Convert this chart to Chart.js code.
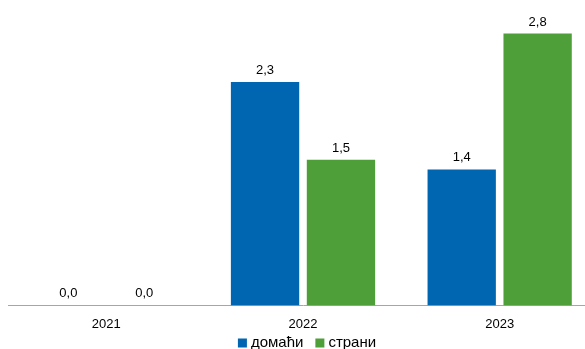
<!DOCTYPE html>
<html>
<head>
<meta charset="utf-8">
<script src="https://cdn.jsdelivr.net/npm/chart.js@4/dist/chart.umd.min.js"></script>
<style>
  html, body { margin: 0; padding: 0; background: #fff; overflow: hidden; }
  #wrap { width: 598px; height: 349px; }
</style>
</head>
<body>
<div id="wrap"><canvas id="chart"></canvas></div>
<script>
const years = ["2021", "2022", "2023"];
const domaci = [0.0, 2.3, 1.4];
const strani = [0.0, 1.5, 2.8];
const seriesNames = ["домаћи", "страни"];
const seriesColors = ["#0066b2", "#4e9f39"];

const FONT = "'Liberation Sans', Arial, sans-serif";

// labels above the bars, comma as decimal sign
const valueLabels = {
    id: "valueLabels",
    afterDatasetsDraw(chart) {
        const ctx = chart.ctx;
        ctx.save();
        ctx.font = "13px " + FONT;
        ctx.fillStyle = "#000";
        ctx.textAlign = "center";
        ctx.textBaseline = "bottom";
        chart.data.datasets.forEach((ds, i) => {
            chart.getDatasetMeta(i).data.forEach((bar, j) => {
                const txt = ds.data[j].toFixed(1).replace(".", ",");
                ctx.fillText(txt, bar.x, bar.y - 5);
            });
        });
        ctx.restore();
    }
};

// simple legend row under the axis
const bottomLegend = {
    id: "bottomLegend",
    afterDraw(chart) {
        const ctx = chart.ctx;
        const area = chart.chartArea;
        ctx.save();
        ctx.font = "15px " + FONT;
        ctx.textBaseline = "alphabetic";
        const box = 9, gap = 4, itemGap = 12;
        const widths = chart.data.datasets.map(ds => box + gap + ctx.measureText(ds.label).width);
        const total = widths.reduce((a, b) => a + b, 0) + itemGap * (widths.length - 1);
        let x = (area.left + area.right) / 2 + 4 - total / 2;
        const y = 347;
        chart.data.datasets.forEach((ds, i) => {
            ctx.fillStyle = ds.backgroundColor;
            ctx.fillRect(x, y - 8.5, box, box);
            ctx.fillStyle = "#000";
            ctx.fillText(ds.label, x + box + gap, y);
            x += widths[i] + itemGap;
        });
        ctx.restore();
    }
};

new Chart(document.getElementById("chart"), {
    type: "bar",
    data: {
        labels: years,
        datasets: seriesNames.map((name, i) => ({
            label: name,
            data: i === 0 ? domaci : strani,
            backgroundColor: seriesColors[i],
            categoryPercentage: 0.772,
            barPercentage: 0.9,
        })),
    },
    options: {
        responsive: true,
        maintainAspectRatio: false,
        animation: false,
        layout: { padding: { top: 14, left: 8, right: 0, bottom: 14 } },
        plugins: {
            legend: { display: false },
            tooltip: { enabled: false },
        },
        scales: {
            x: {
                grid: { display: false },
                border: { display: true, color: "#a6a6a6", width: 1 },
                ticks: {
                    color: "#000",
                    padding: 3,
                    font: { family: FONT, size: 13 },
                },
            },
            y: {
                display: false,
                min: 0,
                max: 3,
            },
        },
    },
    plugins: [valueLabels, bottomLegend],
});
</script>
</body>
</html>
